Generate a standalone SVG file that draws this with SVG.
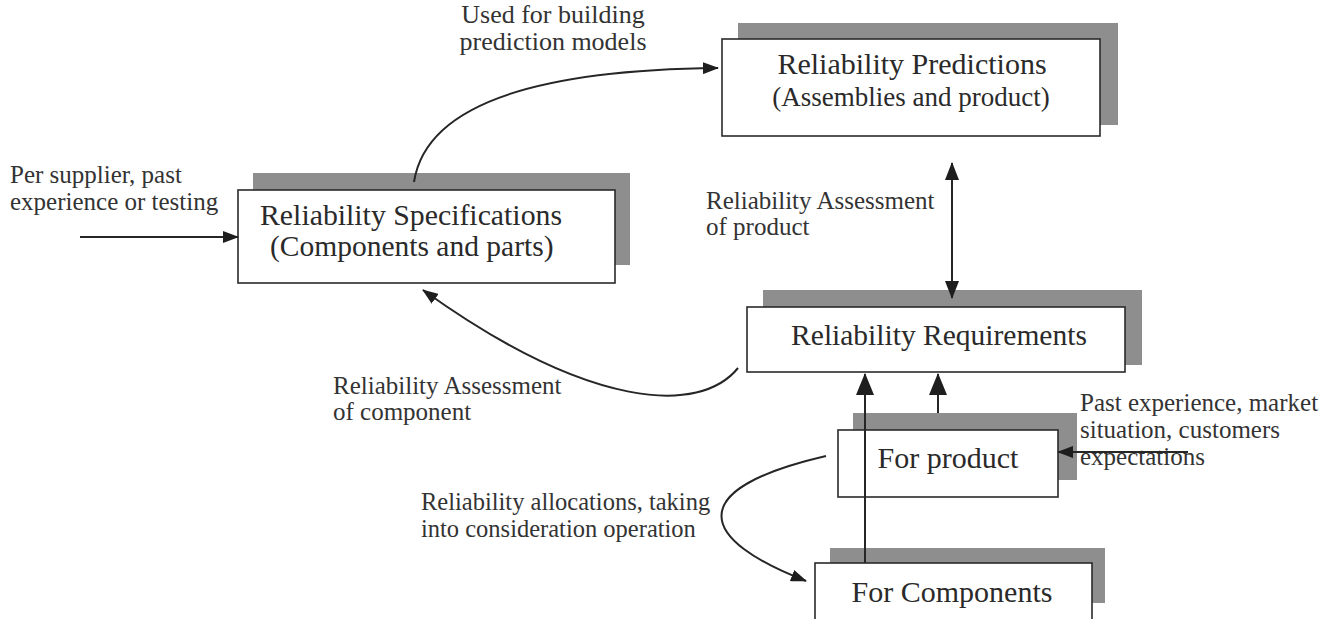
<svg xmlns="http://www.w3.org/2000/svg" width="1331" height="619" viewBox="0 0 1331 619">
<style>
.shadow{fill:#8e8e8e}
.box{fill:#fff;stroke:#2a2a2a;stroke-width:1.6}
.bt{font-family:"Liberation Serif","Times New Roman",serif;font-size:30px;fill:#2a2a2a}
.lb{font-family:"Liberation Serif","Times New Roman",serif;font-size:25px;fill:#333}
.c{fill:none;stroke:#262626;stroke-width:2}
</style>
<defs>
<marker id="ah" markerUnits="userSpaceOnUse" markerWidth="16" markerHeight="12" refX="15" refY="6" orient="auto">
<path d="M0,0 L16,6 L0,12 z" fill="#1e1e1e"/>
</marker>
<marker id="ahm" markerUnits="userSpaceOnUse" markerWidth="18" markerHeight="14" refX="17" refY="7" orient="auto-start-reverse">
<path d="M0,0 L18,7 L0,14 z" fill="#1e1e1e"/>
</marker>
<marker id="ahl" markerUnits="userSpaceOnUse" markerWidth="22" markerHeight="18" refX="21" refY="9" orient="auto">
<path d="M0,0 L22,9 L0,18 z" fill="#1e1e1e"/>
</marker>
</defs>
<rect width="1331" height="619" fill="#fff"/>

<g id="node-predictions">
<rect class="shadow" x="738" y="23" width="380" height="102"/>
<rect class="box" x="722" y="39" width="378" height="97"/>
<text class="bt" x="912" y="74" text-anchor="middle">Reliability Predictions</text>
<text class="bt" x="911" y="106" text-anchor="middle" style="font-size:27px">(Assemblies and product)</text>
</g>

<g id="node-specifications">
<rect class="shadow" x="253" y="173" width="377" height="92"/>
<rect class="box" x="238" y="190" width="377" height="93"/>
<text class="bt" x="260" y="225" style="font-size:29.8px">Reliability Specifications</text>
<text class="bt" x="270" y="256" style="font-size:29.5px">(Components and parts)</text>
</g>

<g id="node-requirements">
<rect class="shadow" x="763" y="290" width="379" height="75"/>
<rect class="box" x="747" y="307" width="378" height="65"/>
<text class="bt" x="939" y="345" text-anchor="middle" style="font-size:29.5px">Reliability Requirements</text>
</g>

<g id="node-product">
<rect class="shadow" x="853" y="413" width="224" height="67"/>
<rect class="box" x="838" y="430" width="220" height="67"/>
<text class="bt" x="948" y="468" text-anchor="middle">For product</text>
</g>

<g id="node-components">
<rect class="shadow" x="830" y="548" width="275" height="55"/>
<rect class="box" x="815" y="563" width="277" height="70"/>
<text class="bt" x="952" y="602" text-anchor="middle">For Components</text>
</g>

<g id="labels">
<text class="lb" x="553" y="23" text-anchor="middle" style="font-size:26px">Used for building</text>
<text class="lb" x="553" y="50" text-anchor="middle" style="font-size:26px">prediction models</text>
<text class="lb" x="10" y="183">Per supplier, past</text>
<text class="lb" x="10" y="210">experience or testing</text>
<text class="lb" x="706" y="209">Reliability Assessment</text>
<text class="lb" x="706" y="235">of product</text>
<text class="lb" x="333" y="394">Reliability Assessment</text>
<text class="lb" x="333" y="420">of component</text>
<text class="lb" x="421" y="510" style="font-size:24.5px">Reliability allocations, taking</text>
<text class="lb" x="421" y="537" style="font-size:24.5px">into consideration operation</text>
<text class="lb" x="1080" y="411">Past experience, market</text>
<text class="lb" x="1080" y="438">situation, customers</text>
<text class="lb" x="1080" y="465">expectations</text>
</g>

<g id="connectors">
<path class="c" d="M80,237 L238,237" marker-end="url(#ah)"/>
<path class="c" d="M414,182 C425,110 520,70 718,68" marker-end="url(#ah)"/>
<path class="c" d="M952,163 L952,298" marker-start="url(#ahm)" marker-end="url(#ahm)"/>
<path class="c" d="M738,368 C700,415 590,410 423,290" marker-end="url(#ah)"/>
<path class="c" d="M865,563 L865,374" marker-end="url(#ahl)"/>
<path class="c" d="M938,413 L938,374" marker-end="url(#ahl)"/>
<path class="c" d="M826,456 C680,490 700,540 806,581" marker-end="url(#ah)"/>
<path class="c" d="M1188,452 L1058,452" marker-end="url(#ah)"/>
</g>
</svg>
